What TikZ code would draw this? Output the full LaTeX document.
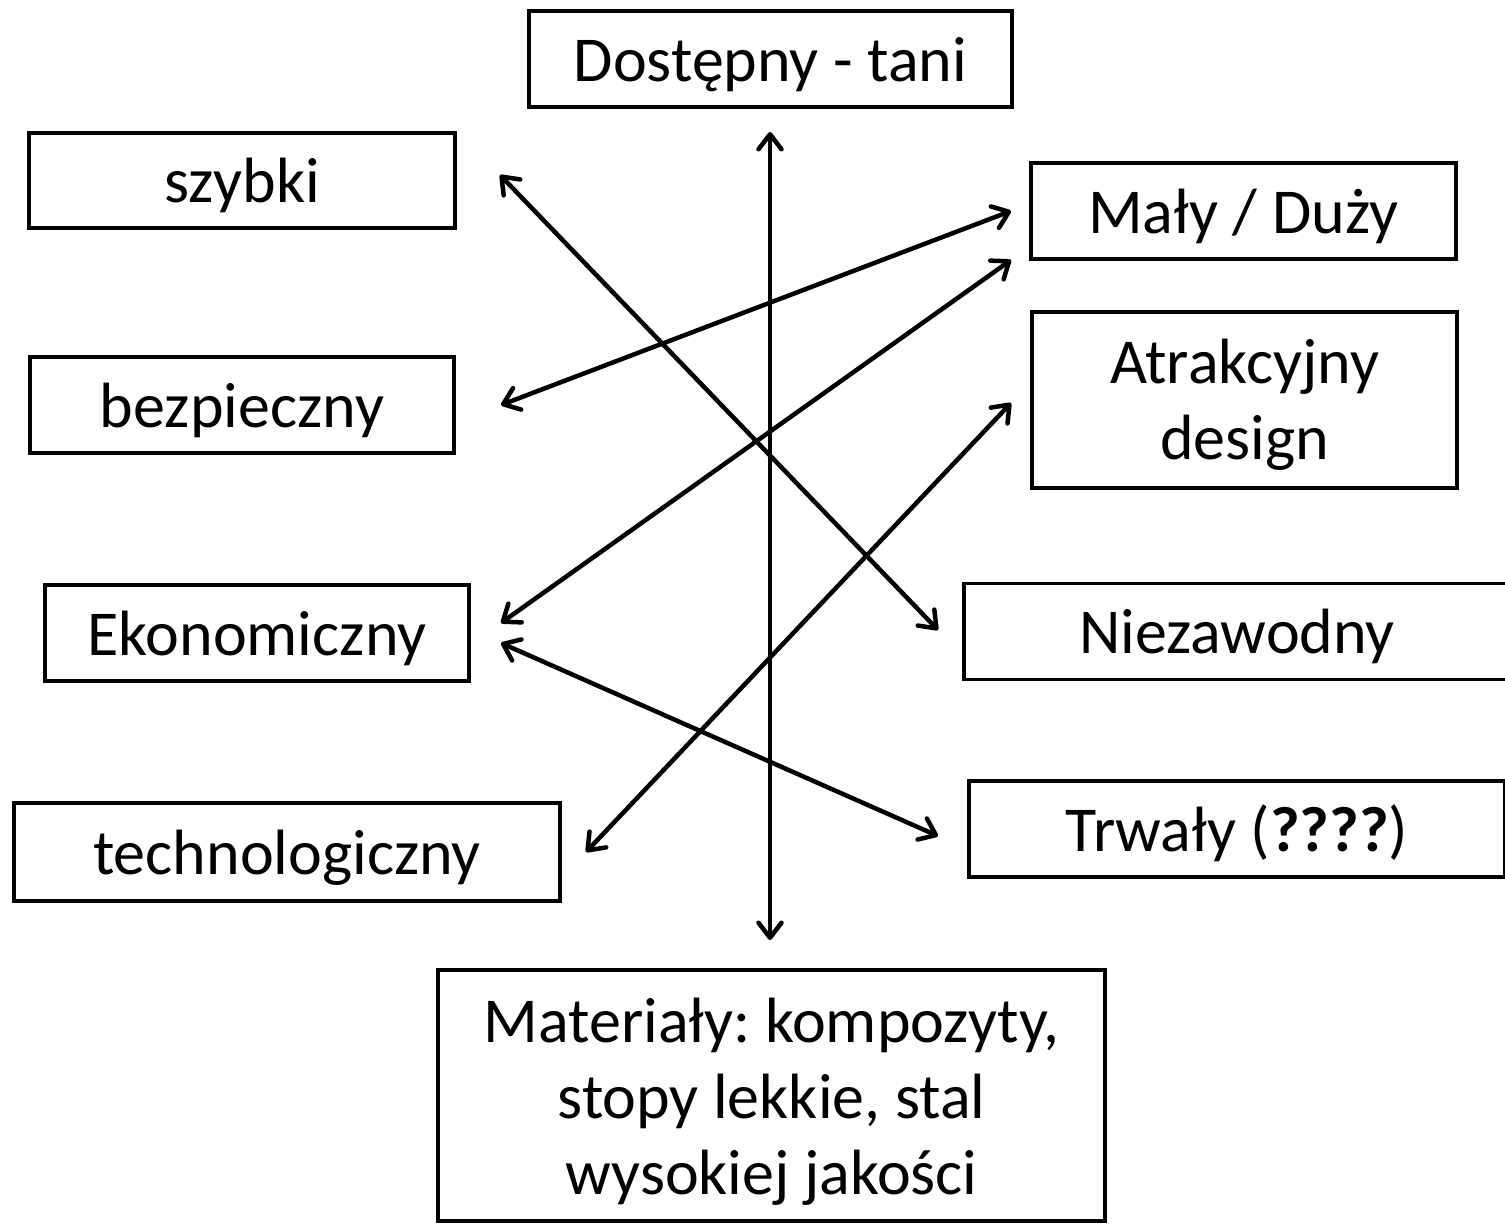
\documentclass[tikz,border=0pt]{standalone}
\usepackage{fontspec}
\setmainfont{Carlito}
\usetikzlibrary{arrows.meta}
\frenchspacing
\begin{document}
\begin{tikzpicture}[x=1pt,y=-1pt,
  box/.style={draw, line width=3.5pt, inner sep=0pt, align=center,
    font=\fontsize{64pt}{76pt}\selectfont, text height=44pt, text depth=0pt},
  link/.style={line width=4.5pt,
    {Straight Barb[length=15pt,width=23pt,round]}-{Straight Barb[length=15pt,width=23pt,round]}}]
\clip (0,0) rectangle (1505,1224);
\fill[white] (0,0) rectangle (1505,1224);

% feature boxes
\node[box, minimum width=483pt, minimum height=96pt] (tani) at (770.5,59) {Dostępny - tani};
\node[box, minimum width=426pt, minimum height=95pt] (szybki) at (242,180.5) {szybki};
\node[box, minimum width=425pt, minimum height=96pt] (maly) at (1243.5,211) {Mały / Duży};
\node[box, minimum width=424pt, minimum height=96pt] (bezp) at (242,405) {bezpieczny};
\node[box, minimum width=425pt, minimum height=176pt, text height=119pt, text depth=0pt] (atr) at (1244.5,400) {Atrakcyjny\\design};
\node[box, minimum width=424pt, minimum height=96pt] (ekon) at (257,633) {Ekonomiczny};
\node[box, minimum width=546pt, minimum height=96pt] (niez) at (1237,631.5) {Niezawodny};
\node[box, minimum width=536pt, minimum height=96pt] (trw) at (1237,829) {Trwały (\textbf{????})};
\node[box, minimum width=546pt, minimum height=98pt] (tech) at (287,852) {technologiczny};
\node[box, minimum width=667pt, minimum height=251pt, text height=197pt, text depth=0pt] (mat) at (771.5,1095.5) {Materiały: kompozyty,\\stopy lekkie, stal\\wysokiej jakości};

% arrow ends, kept clear of the boxes
\coordinate (tani-s) at (770,132);
\coordinate (mat-n) at (770,940);
\coordinate (szybki-e) at (500,175);
\coordinate (niez-w) at (938,630);
\coordinate (bezp-e) at (501,405);
\coordinate (maly-w1) at (1011,211);
\coordinate (ekon-e1) at (501,623);
\coordinate (maly-w2) at (1011,260);
\coordinate (tech-e) at (586,852);
\coordinate (atr-w) at (1011,403);
\coordinate (ekon-e2) at (501,643);
\coordinate (trw-w) at (938,836);

% relations
\draw[link] (tani-s) -- (mat-n);
\draw[link] (szybki-e) -- (niez-w);
\draw[link] (bezp-e) -- (maly-w1);
\draw[link] (ekon-e1) -- (maly-w2);
\draw[link] (tech-e) -- (atr-w);
\draw[link] (ekon-e2) -- (trw-w);
\end{tikzpicture}
\end{document}
